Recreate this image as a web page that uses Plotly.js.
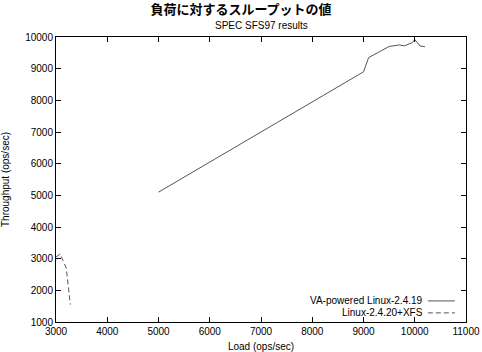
<!DOCTYPE html>
<html><head><meta charset="utf-8">
<script src="https://cdn.plot.ly/plotly-3.0.1.min.js"></script>
<style>body{margin:0;background:#fff}#c{width:482px;height:352px}</style>
</head><body><div id="c"></div>
<script>
const vaLoad = [5000, 9000, 9100, 9500, 9700, 9800, 9950, 10000, 10100, 10200];
const vaThroughput = [5100, 8900, 9350, 9700, 9750, 9720, 9820, 9920, 9720, 9690];
const xfsLoad = [3000, 3080, 3200, 3280];
const xfsThroughput = [3050, 3150, 2700, 1550];
const seriesNames = ["VA-powered Linux-2.4.19", "Linux-2.4.20+XFS"];
const xTicks = [3000, 4000, 5000, 6000, 7000, 8000, 9000, 10000, 11000];
const yTicks = [1000, 2000, 3000, 4000, 5000, 6000, 7000, 8000, 9000, 10000];

const font = "Liberation Sans, Arial, sans-serif";
const traces = [
  {x: vaLoad, y: vaThroughput, mode: "lines", name: seriesNames[0],
   line: {color: "#555", width: 1}},
  {x: xfsLoad, y: xfsThroughput, mode: "lines", name: seriesNames[1],
   line: {color: "#555", width: 1, dash: "5px,3px"}}
];
const axisCommon = {
  showgrid: false, zeroline: false, showline: true, linecolor: "#000", linewidth: 1,
  mirror: "allticks", ticks: "inside", ticklen: 5, tickcolor: "#000", tickformat: "d",
  tickfont: {family: font, size: 10, color: "#000"}
};
const layout = {
  width: 482, height: 352,
  margin: {l: 56, r: 16, t: 37, b: 30},
  paper_bgcolor: "#fff", plot_bgcolor: "#fff",
  showlegend: false,
  title: {text: "<b>負荷に対するスループットの値</b>", x: 0.5, xanchor: "center",
    y: 0.972, yanchor: "middle", font: {family: "Noto Sans CJK JP, sans-serif", size: 13, color: "#000"}},
  xaxis: Object.assign({}, axisCommon, {range: [3000, 11000], tickvals: xTicks,
    title: {text: "Load (ops/sec)", font: {family: font, size: 10, color: "#000"}, standoff: 6}}),
  yaxis: Object.assign({}, axisCommon, {range: [1000, 10000], tickvals: yTicks,
    title: {text: "Throughput (ops/sec)", font: {family: font, size: 10, color: "#000"}, standoff: 16}}),
  annotations: [
    {text: "SPEC SFS97 results", xref: "paper", yref: "paper", x: 0.5, y: 1.0, yshift: 12,
     xanchor: "center", yanchor: "middle", showarrow: false, font: {family: font, size: 10, color: "#000"}},
    {text: seriesNames[0], xref: "paper", yref: "paper", x: 0.9, y: 0.074,
     xanchor: "right", yanchor: "middle", showarrow: false, font: {family: font, size: 10, color: "#000"}},
    {text: seriesNames[1], xref: "paper", yref: "paper", x: 0.9, y: 0.032,
     xanchor: "right", yanchor: "middle", showarrow: false, font: {family: font, size: 10, color: "#000"}}
  ],
  shapes: [
    {type: "line", xref: "paper", yref: "paper", x0: 0.907, x1: 0.973, y0: 0.074, y1: 0.074,
     line: {color: "#555", width: 1}},
    {type: "line", xref: "paper", yref: "paper", x0: 0.907, x1: 0.973, y0: 0.032, y1: 0.032,
     line: {color: "#555", width: 1, dash: "5px,3px"}}
  ]
};
Plotly.newPlot("c", traces, layout, {displayModeBar: false, staticPlot: true});
</script></body></html>
